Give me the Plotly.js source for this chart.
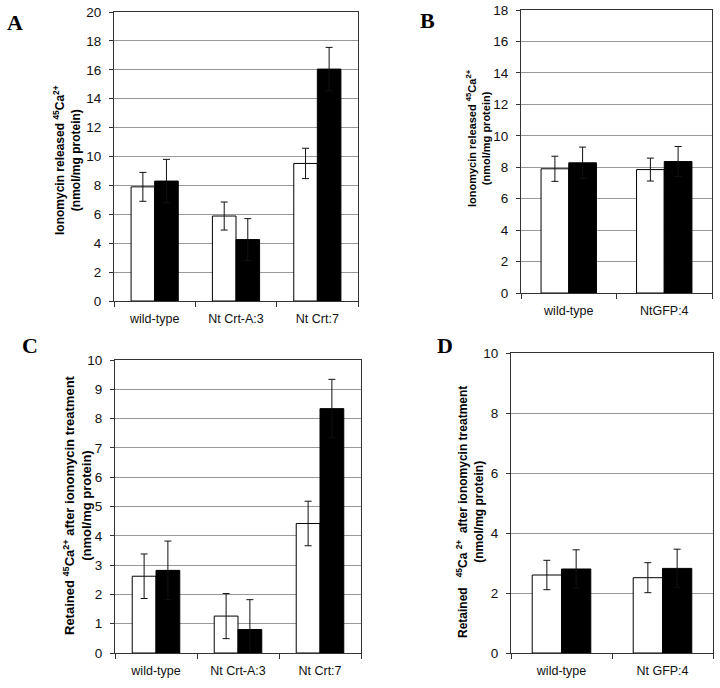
<!DOCTYPE html>
<html><head><meta charset="utf-8">
<script src="https://cdn.plot.ly/plotly-3.0.1.min.js"></script>
<style>html,body{margin:0;padding:0;background:#fff}#chart{width:720px;height:688px}</style>
</head><body><div id="chart"></div>
<script>
// Panel A
const catsA = ['wild-type', 'Nt Crt-A:3', 'Nt Crt:7'];
const aWhite = [7.9, 5.88, 9.52];
const aWhiteErr = [1.0, 0.97, 1.05];
const aBlack = [8.3, 4.25, 16.05];
const aBlackErr = [1.5, 1.45, 1.5];
// Panel B
const catsB = ['wild-type', 'NtGFP:4'];
const bWhite = [7.9, 7.85];
const bWhiteErr = [0.8, 0.73];
const bBlack = [8.28, 8.36];
const bBlackErr = [1.0, 0.96];
// Panel C
const catsC = ['wild-type', 'Nt Crt-A:3', 'Nt Crt:7'];
const cWhite = [2.62, 1.26, 4.42];
const cWhiteErr = [0.76, 0.77, 0.76];
const cBlack = [2.82, 0.8, 8.34];
const cBlackErr = [1.0, 1.02, 1.0];
// Panel D
const catsD = ['wild-type', 'Nt GFP:4'];
const dWhite = [2.6, 2.51];
const dWhiteErr = [0.49, 0.5];
const dBlack = [2.8, 2.82];
const dBlackErr = [0.64, 0.64];

function bar(x, y, err, fill, xa, ya) {
  return {
    type: 'bar', x: x, y: y, xaxis: xa, yaxis: ya,
    marker: {color: fill, line: {color: '#000', width: 1}},
    error_y: {type: 'data', array: err, visible: true, color: '#111', thickness: 1, width: 3.5},
    showlegend: false, hoverinfo: 'skip'
  };
}

const data = [
  bar(catsA, aWhite, aWhiteErr, '#fff', 'x', 'y'),
  bar(catsA, aBlack, aBlackErr, '#000', 'x', 'y'),
  bar(catsB, bWhite, bWhiteErr, '#fff', 'x2', 'y2'),
  bar(catsB, bBlack, bBlackErr, '#000', 'x2', 'y2'),
  bar(catsC, cWhite, cWhiteErr, '#fff', 'x3', 'y3'),
  bar(catsC, cBlack, cBlackErr, '#000', 'x3', 'y3'),
  bar(catsD, dWhite, dWhiteErr, '#fff', 'x4', 'y4'),
  bar(catsD, dBlack, dBlackErr, '#000', 'x4', 'y4')
];

const W = 720, H = 688;
const px = v => v / W;
const py = v => 1 - v / H;
const xTickFont = {family: 'Liberation Sans, Arial, sans-serif', size: 12.5, color: '#111'};
const yTickFont = {family: 'Liberation Sans, Arial, sans-serif', size: 13.5, color: '#111'};

function xax(l, r, anchor) {
  return {domain: [px(l), px(r)], anchor: anchor, showline: true, linecolor: '#333', linewidth: 1,
    mirror: true, ticks: 'outside', ticklen: 5, tickcolor: '#333', tickson: 'boundaries',
    ticklabelstandoff: 6, tickfont: xTickFont, showgrid: false, fixedrange: true};
}
function yax(t, b, max, dtick, anchor) {
  return {domain: [py(b), py(t)], anchor: anchor, range: [0, max], dtick: dtick,
    showline: true, linecolor: '#333', linewidth: 1, mirror: true,
    ticks: 'outside', ticklen: 4, tickcolor: '#333', ticklabelstandoff: 5, tickfont: yTickFont,
    showgrid: true, gridcolor: '#999', gridwidth: 1, zeroline: false, fixedrange: true};
}

const titleFont = {family: 'Liberation Sans, Arial, sans-serif', size: 12, color: '#000'};
const letterFont = {family: 'Liberation Serif, Times New Roman, serif', size: 22, color: '#000'};

function note(text, x, y, font, angle) {
  return {text: text, x: px(x), y: py(y), xref: 'paper', yref: 'paper', showarrow: false,
    xanchor: 'center', yanchor: 'middle', textangle: angle || 0, font: font};
}

const layout = {
  width: W, height: H, margin: {l: 0, r: 0, t: 0, b: 0},
  paper_bgcolor: '#fff', plot_bgcolor: '#fff',
  barmode: 'group', bargap: 0.42, bargroupgap: 0,
  xaxis: xax(114, 358, 'y'),
  yaxis: yax(12, 301, 20, 2, 'x'),
  xaxis2: xax(521, 712, 'y2'),
  yaxis2: yax(10, 293, 18, 2, 'x2'),
  xaxis3: xax(115, 361, 'y3'),
  yaxis3: yax(360, 653, 10, 1, 'x3'),
  xaxis4: xax(511, 713, 'y4'),
  yaxis4: yax(353, 653, 10, 2, 'x4'),
  annotations: [
    note('<b>A</b>', 15, 22, letterFont),
    note('<b>B</b>', 427, 20, letterFont),
    note('<b>C</b>', 30, 345, letterFont),
    note('<b>D</b>', 445, 345, letterFont),
    note('<b>Ionomycin released <sup>45</sup>Ca<sup>2+</sup><br>(nmol/mg protein)</b>', 67, 160, titleFont, -90),
    note('<b>Ionomycin released <sup>45</sup>Ca<sup>2+</sup><br>(nmol/mg protein)</b>', 478, 138,
      {family: titleFont.family, size: 11, color: '#000'}, -90),
    note('<b>Retained <sup>45</sup>Ca<sup>2+</sup> after ionomycin treatment<br>(nmol/mg protein)</b>', 77, 505,
      {family: titleFont.family, size: 13, color: '#000'}, -90),
    note('<b>Retained   <sup>45</sup>Ca <sup>2+</sup>  after ionomycin treatment<br>(nmol/mg protein)</b>', 470, 512, titleFont, -90)
  ]
};

Plotly.newPlot('chart', data, layout, {displayModeBar: false, staticPlot: true});
</script>
</body></html>
